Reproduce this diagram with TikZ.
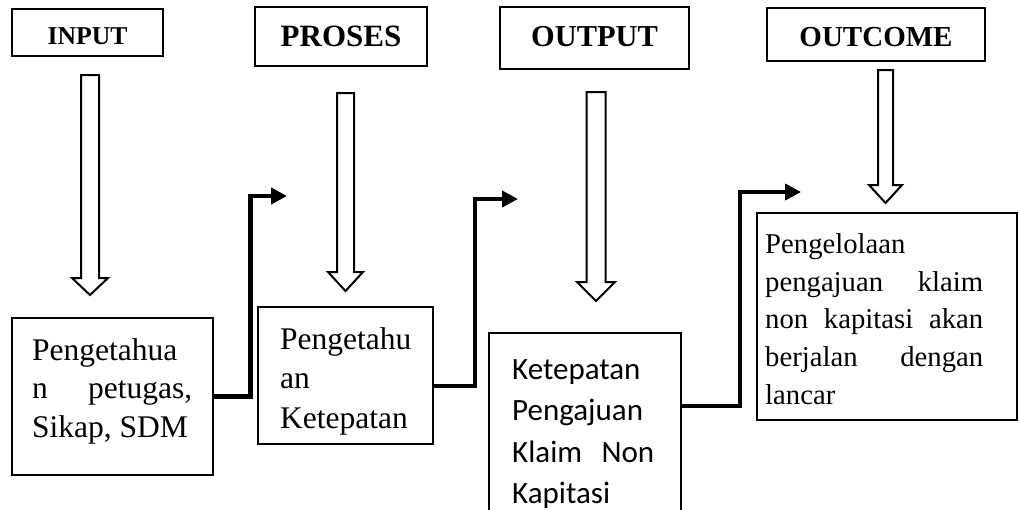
\documentclass[tikz,border=0pt]{standalone}
\usepackage{fontspec}
\setmainfont{Liberation Serif}
\newfontfamily\carlitofont{Carlito}
\usetikzlibrary{arrows.meta,calc}
\tikzset{
  headbox/.style={draw,line width=1.7pt,inner sep=0pt,font=\bfseries,text depth=0pt},
  contbox/.style={draw,line width=1.8pt,inner sep=0pt},
  blk/.style={draw,line width=2pt,fill=white,line join=miter},
  conn/.style={line width=4.5pt,-{Triangle[length=16pt,width=16pt]}},
  txt/.style={anchor=base west,inner sep=0pt}
}
\newcommand\blkarrow[6]{\draw[blk] (#1-#5,#2) -- (#1+#5,#2) -- (#1+#5,#3) -- (#1+#6,#3) -- (#1,#4) -- (#1-#6,#3) -- (#1-#5,#3) -- cycle;}
\begin{document}
\begin{tikzpicture}[x=1pt,y=-1pt]
\useasboundingbox[fill=white] (0,0) rectangle (1019,509);
% heading boxes
\node[headbox,text height=24pt,minimum width=151pt,minimum height=47pt] (hin) at (87.5,32.5) {\fontsize{25.7}{30}\selectfont INPUT};
\node[headbox,text height=20.5pt,minimum width=172pt,minimum height=59pt] (hpr) at (341,36.5) {\fontsize{31}{36}\selectfont PROSES};
\node[headbox,text height=17.1pt,minimum width=189pt,minimum height=62pt] (hout) at (594.5,38) {\fontsize{30.4}{36}\selectfont OUTPUT};
\node[headbox,text height=24.2pt,minimum width=218pt,minimum height=53pt] (hoc) at (876,34.5) {\fontsize{29}{34}\selectfont OUTCOME};
% block arrows
\blkarrow{90}{75}{278}{295}{9}{18}
\blkarrow{345.5}{93}{272}{291}{8.5}{17.5}
\blkarrow{596}{92}{282}{301}{9.5}{19}
\blkarrow{885.5}{70}{185}{203}{7.5}{16.5}
% content boxes
\node[contbox,minimum width=201pt,minimum height=157pt] (in) at (112.5,396.5) {};
\node[contbox,minimum width=175pt,minimum height=137pt] (pr) at (345.5,375.5) {};
\node[contbox,minimum width=192pt,minimum height=207pt] (out) at (585,436.5) {};
\node[contbox,line width=1.2pt,minimum width=260pt,minimum height=207pt] (oc) at (887,316.5) {};
% texts
\node[txt] (tin) at (32,360) {\parbox[t]{160pt}{\fontsize{31.5}{38.5}\selectfont Pengetahua\\\makebox[160pt][s]{n petugas,}\\Sikap, SDM}};
\node[txt] (tpr) at (280,349) {\parbox[t]{140pt}{\fontsize{31.5}{39.5}\selectfont Pengetahu\\an\\Ketepatan}};
\node[txt] (tout) at (512,379) {\parbox[t]{142pt}{\carlitofont\fontsize{31}{41.5}\selectfont Ketepatan\\Pengajuan\\\makebox[142pt][s]{Klaim Non}\\Kapitasi}};
\node[txt] (toc) at (765,253.5) {\parbox[t]{218pt}{\fontsize{28.7}{37.7}\selectfont Pengelolaan\\\makebox[218pt][s]{pengajuan klaim}\\\makebox[218pt][s]{non kapitasi akan}\\\makebox[218pt][s]{berjalan dengan}\\lancar}};
% connectors
\coordinate (k1) at (250.5,196);
\coordinate (e1) at (287,196);
\coordinate (k2) at (475,199);
\coordinate (e2) at (518,199);
\coordinate (k3) at (740,192);
\coordinate (e3) at (801,192);
\draw[conn] (in.east) -| (k1) -- (e1);
\draw[conn] ([yshift=-10.5pt]pr.east) -| (k2) -- (e2);
\draw[conn] ([yshift=30.5pt]out.east) -| (k3) -- (e3);
\end{tikzpicture}
\end{document}
